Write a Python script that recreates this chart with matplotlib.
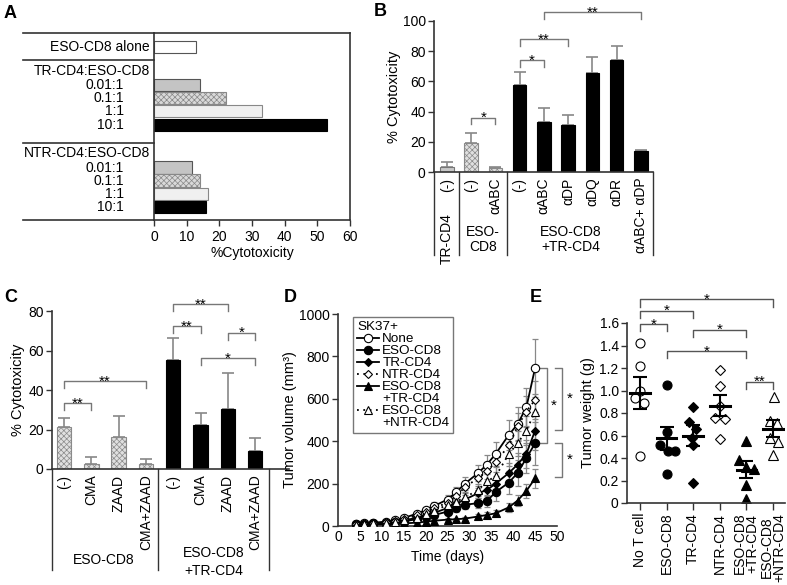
import numpy as np
import matplotlib
matplotlib.use("Agg")
import matplotlib.pyplot as plt
from matplotlib.transforms import offset_copy
from matplotlib.lines import Line2D

plt.rcParams['font.family'] = ['Liberation Sans', 'DejaVu Sans']
plt.rcParams['font.size'] = 9.5
plt.rcParams['hatch.linewidth'] = 0.5

W, H = 787, 585
fig = plt.figure(figsize=(W / 100, H / 100), dpi=100)
AX_COL = '#333333'
BR_COL = '#777777'

def px_axes(l, t, r, b):
    return fig.add_axes([l / W, 1 - b / H, (r - l) / W, (b - t) / H])

def ftext(x, y, s, **kw):
    fig.text(x / W, 1 - y / H, s, **kw)

# ---------------- data ----------------
# Panel A
A_labels = ['ESO-CD8 alone', '0.01:1', '0.1:1', '1:1', '10:1', '0.01:1', '0.1:1', '1:1', '10:1']
A_values = [13, 14, 22, 33, 53, 11.5, 14, 16.5, 16]
A_headers = ['TR-CD4:ESO-CD8', 'NTR-CD4:ESO-CD8']

# Panel B
B_labels = ['(-)', '(-)', 'αABC', '(-)', 'αABC', 'αDP', 'αDQ', 'αDR', 'αABC+ αDP']
B_values = [3, 19, 2.5, 57.5, 33, 31, 65.5, 74.5, 14]
B_err = [3.5, 7, 0.5, 8.5, 9.5, 7, 10.5, 9, 0.5]
B_brackets = [(1, 2, 36, '*'), (3, 4, 74, '*'), (3, 5, 88, '**'), (4, 8, 106, '**')]

# Panel C
C_labels = ['(-)', 'CMA', 'ZAAD', 'CMA+ZAAD'] * 2
C_values = [21.5, 2.3, 16, 2.5, 55, 22.5, 30.5, 9]
C_err = [4.5, 3.7, 11, 2.5, 11.5, 6, 18, 6.5]
C_brackets = [(0, 1, 33.5, '**'), (0, 3, 44.5, '**'), (4, 5, 72.5, '**'),
              (4, 6, 83.5, '**'), (6, 7, 69, '*'), (5, 7, 56, '*')]

# Panel D
D_days = [4, 6, 8, 11, 13, 15, 18, 20, 22, 25, 27, 29, 32, 34, 36, 39, 41, 43, 45]
D_none = [10, 12, 16, 20, 28, 38, 58, 75, 95, 125, 160, 200, 250, 290, 340, 430, 480, 560, 745]
D_none_err = [3, 3, 4, 5, 6, 8, 10, 12, 18, 22, 25, 30, 40, 45, 55, 70, 80, 90, 135]
D_eso = [9, 10, 12, 14, 17, 22, 32, 42, 52, 68, 85, 100, 108, 118, 160, 205, 250, 320, 390]
D_eso_err = [2, 2, 3, 3, 4, 5, 7, 9, 12, 15, 18, 20, 25, 28, 40, 55, 60, 70, 100]
D_tr = [8, 10, 12, 15, 20, 27, 38, 50, 62, 85, 105, 125, 155, 170, 200, 250, 290, 340, 450]
D_tr_err = [2, 2, 3, 3, 4, 5, 7, 9, 12, 15, 18, 20, 25, 28, 35, 45, 55, 65, 90]
D_ntr = [8, 10, 14, 18, 25, 34, 50, 65, 85, 110, 140, 185, 225, 260, 300, 380, 470, 540, 595]
D_ntr_err = [2, 3, 3, 4, 5, 7, 9, 11, 14, 18, 22, 28, 35, 40, 45, 55, 65, 75, 90]
D_eso_tr = [5, 6, 7, 8, 10, 12, 16, 20, 25, 30, 32, 35, 45, 52, 60, 88, 120, 165, 225]
D_eso_tr_err = [1, 1, 2, 2, 2, 3, 4, 5, 6, 7, 8, 9, 10, 12, 14, 20, 25, 35, 45]
D_eso_ntr = [7, 9, 12, 15, 20, 28, 40, 55, 72, 100, 115, 135, 170, 210, 235, 340, 390, 450, 540]
D_eso_ntr_err = [2, 2, 3, 3, 4, 5, 8, 10, 13, 17, 20, 24, 30, 38, 42, 55, 60, 70, 85]

# Panel E
E_labels = ['No T cell', 'ESO-CD8', 'TR-CD4', 'NTR-CD4', 'ESO-CD8\n+TR-CD4', 'ESO-CD8\n+NTR-CD4']
E_points = [[1.42, 1.22, 1.00, 0.93, 0.89, 0.42],
            [1.05, 0.63, 0.52, 0.46, 0.46, 0.26],
            [0.85, 0.72, 0.66, 0.58, 0.52, 0.18],
            [1.18, 1.04, 0.86, 0.76, 0.75, 0.57],
            [0.55, 0.38, 0.32, 0.30, 0.16, 0.04],
            [0.94, 0.73, 0.71, 0.58, 0.54, 0.43]]
E_jitter = [[0, 0, 0, -0.18, 0.15, 0],
            [0, 0, -0.25, 0.05, 0.3, 0],
            [0, -0.15, 0.1, -0.06, 0, 0],
            [0, 0, 0, -0.19, 0.19, 0],
            [0, -0.28, 0, 0.28, 0, 0],
            [0.05, -0.1, 0.15, -0.1, 0.2, 0]]
E_mean = [0.98, 0.575, 0.60, 0.865, 0.295, 0.66]
E_sem = [0.14, 0.105, 0.09, 0.095, 0.075, 0.075]
E_brackets = [(0, 5, 1.81, '*'), (0, 2, 1.71, '*'), (0, 1, 1.59, '*'),
              (2, 4, 1.54, '*'), (1, 4, 1.35, '*'), (4, 5, 1.08, '**')]


def style_spines(ax, which=('left', 'bottom')):
    for s in ['left', 'right', 'top', 'bottom']:
        ax.spines[s].set_visible(s in which)
        ax.spines[s].set_color(AX_COL)
        ax.spines[s].set_linewidth(1.2)
    ax.tick_params(colors=AX_COL, labelcolor='black', width=1.0, length=4)


def brackets(ax, specs, drop, fs=11, color=BR_COL):
    star_tr = offset_copy(ax.transData, fig=fig, y=-4.5, units='dots')
    for x1, x2, y, lab in specs:
        ax.plot([x1, x1, x2, x2], [y - drop, y, y, y - drop], color=color, lw=1.0,
                clip_on=False)
        ax.text((x1 + x2) / 2, y, lab, ha='center', va='baseline', transform=star_tr,
                fontsize=fs, clip_on=False)

# ---------------- Panel A ----------------
axA = px_axes(154, 33, 350, 220)
A_rows = [1.06, 3.94, 4.93, 5.91, 6.97, 10.2, 11.2, 12.2, 13.18]
A_face = ['white', '#c4c4c4', '#d9d9d9', '#f0f0f0', 'black', '#c4c4c4', '#d9d9d9', '#f0f0f0', 'black']
A_hatch = [None, None, 'xxxxxx', None, None, None, 'xxxxxx', None, None]
A_edge = ['#555555', '#555555', '#888888', '#888888', 'black', '#555555', '#888888', '#888888', 'black']
for r, v, fc, h, ec in zip(A_rows, A_values, A_face, A_hatch, A_edge):
    axA.barh(r, v, height=0.97, color=fc, edgecolor=ec, hatch=h, linewidth=0.8)
axA.set_xlim(0, 60)
axA.set_ylim(14.17, 0)
style_spines(axA, ('left', 'right', 'top', 'bottom'))
axA.set_yticks([])
axA.set_xticks(range(0, 61, 10))
axA.tick_params(axis='x', labelsize=10)
axA.set_xlabel('%Cytotoxicity', fontsize=10, labelpad=1)
ty = axA.get_yaxis_transform()
for yy in (0, 14.17):
    axA.plot([-0.668, 0], [yy, yy], transform=ty, color=AX_COL, lw=1.2, clip_on=False)
for yy in (2.05, 8.33):
    axA.plot([-0.668, 0], [yy, yy], transform=ty, color=AX_COL, lw=1.2, clip_on=False)
axA.text(-0.02, A_rows[0], A_labels[0], transform=ty, ha='right', va='center', fontsize=10)
axA.text(-0.02, 2.88, A_headers[0], transform=ty, ha='right', va='center', fontsize=10)
axA.text(-0.02, 9.09, A_headers[1], transform=ty, ha='right', va='center', fontsize=10)
for r, lab in zip(A_rows[1:], A_labels[1:]):
    axA.text(-0.153, r, lab, transform=ty, ha='right', va='center', fontsize=10)

# ---------------- Panel B ----------------
axB = px_axes(434, 21, 653, 172)
xB = np.arange(len(B_values))
B_face = ['#c8c8c8', '#e0e0e0', '#e0e0e0'] + ['black'] * 6
B_hatch = [None, 'xxxxxx', 'xxxxxx'] + [None] * 6
B_edge = ['#777777', '#8a8a8a', '#8a8a8a'] + ['black'] * 6
axB.errorbar(xB, B_values, yerr=[np.zeros(len(B_err)), B_err], fmt='none',
             ecolor='#888888', elinewidth=1.2, capsize=4, capthick=1.2, zorder=1)
for x, v, fc, h, ec in zip(xB, B_values, B_face, B_hatch, B_edge):
    axB.bar(x, v, width=0.55, color=fc, edgecolor=ec, hatch=h, linewidth=0.8, zorder=2)
axB.set_xlim(-0.53, 8.5)
axB.set_ylim(0, 100)
style_spines(axB)
axB.set_yticks(range(0, 101, 20))
axB.tick_params(axis='y', labelsize=10, pad=2)
axB.set_xticks(xB)
axB.set_xticklabels(B_labels, rotation=90, fontsize=10, va='top')
axB.tick_params(axis='x', length=0, pad=4)
axB.set_ylabel('% Cytotoxicity', fontsize=10.5, labelpad=1)
tx = axB.get_xaxis_transform()
for xx in (-0.53, 0.5, 2.5, 8.5):
    axB.plot([xx, xx], [0, -0.55], transform=tx, color=AX_COL, lw=1.0, clip_on=False)
axB.text(0, -0.27, 'TR-CD4', transform=tx, rotation=90, ha='center', va='top', fontsize=10)
axB.text(1.5, -0.35, 'ESO-\nCD8', transform=tx, ha='center', va='top', fontsize=10,
         linespacing=1.1)
axB.text(5.1, -0.35, 'ESO-CD8\n+TR-CD4', transform=tx, ha='center', va='top', fontsize=10,
         linespacing=1.1)
brackets(axB, B_brackets, 4.5)

# ---------------- Panel C ----------------
axC = px_axes(52, 311, 289, 469)
xC = np.arange(len(C_values))
C_face = ['#e0e0e0'] * 4 + ['black'] * 4
C_hatch = ['xxxxxx'] * 4 + [None] * 4
C_edge = ['#8a8a8a'] * 4 + ['black'] * 4
axC.errorbar(xC, C_values, yerr=[np.zeros(len(C_err)), C_err], fmt='none',
             ecolor='#888888', elinewidth=1.2, capsize=4, capthick=1.2, zorder=1)
for x, v, fc, h, ec in zip(xC, C_values, C_face, C_hatch, C_edge):
    axC.bar(x, v, width=0.53, color=fc, edgecolor=ec, hatch=h, linewidth=0.8, zorder=2)
axC.set_xlim(-0.44, 8.24)
axC.set_ylim(0, 80)
style_spines(axC)
axC.set_yticks(range(0, 81, 20))
axC.tick_params(axis='y', labelsize=10, pad=2)
axC.set_xticks(xC)
axC.set_xticklabels(C_labels, rotation=90, fontsize=10, va='top')
axC.tick_params(axis='x', length=0, pad=4)
axC.set_ylabel('% Cytotoxicity', fontsize=10.5, labelpad=2)
tx = axC.get_xaxis_transform()
for xx in (-0.44, 3.45, 7.5):
    axC.plot([xx, xx], [0, -0.64], transform=tx, color=AX_COL, lw=1.0, clip_on=False)
axC.text(1.45, -0.53, 'ESO-CD8', transform=tx, ha='center', va='top', fontsize=10)
axC.text(5.5, -0.49, 'ESO-CD8\n+TR-CD4', transform=tx, ha='center', va='top', fontsize=10,
         linespacing=1.3)
brackets(axC, C_brackets, 3.5)

# ---------------- Panel D ----------------
axD = px_axes(338, 314, 557, 526)
D_series = [
    ('None', D_none, D_none_err, 'o', 'white', '-'),
    ('ESO-CD8', D_eso, D_eso_err, 'o', 'black', '-'),
    ('TR-CD4', D_tr, D_tr_err, 'D', 'black', '-'),
    ('NTR-CD4', D_ntr, D_ntr_err, 'D', 'white', (0, (1, 2.5))),
    ('ESO-CD8\n+TR-CD4', D_eso_tr, D_eso_tr_err, '^', 'black', '-'),
    ('ESO-CD8\n+NTR-CD4', D_eso_ntr, D_eso_ntr_err, '^', 'white', (0, (1, 2.5))),
]
handles, labels = [], []
for name, vals, err, mk, mfc, ls in D_series:
    axD.errorbar(D_days, vals, yerr=err, fmt='none', ecolor='#888888', elinewidth=0.9,
                 capsize=2, capthick=0.9, zorder=1)
for name, vals, err, mk, mfc, ls in D_series:
    ms = 4.5 if mk == 'D' else 6
    h, = axD.plot(D_days, vals, linestyle=ls, color='black', lw=1.3, marker=mk, ms=ms,
                  mfc=mfc, mec='black', mew=0.8, zorder=3)
    parts = name.split('\n')
    handles.append(h)
    labels.append(parts[0])
    for extra in parts[1:]:
        handles.append(Line2D([], [], linestyle='none', marker=None))
        labels.append(extra)
axD.set_xlim(0, 50)
axD.set_ylim(0, 1000)
style_spines(axD)
axD.set_xticks(range(0, 51, 5))
axD.set_yticks(range(0, 1001, 200))
axD.tick_params(axis='x', length=0, labelsize=10, pad=3)
axD.tick_params(axis='y', labelsize=10, pad=2)
axD.set_xlabel('Time (days)', fontsize=10, labelpad=4)
axD.set_ylabel('Tumor volume (mm³)', fontsize=10.5, labelpad=1)
leg = axD.legend(handles=handles, labels=labels, title='SK37+', loc='upper left',
                 bbox_to_anchor=(0.07, 0.985), fontsize=9.7, title_fontsize=9.7,
                 frameon=True, fancybox=False, edgecolor='#555555', borderpad=0.3,
                 labelspacing=-0.03, handlelength=1.6, handletextpad=0.25,
                 borderaxespad=0)
leg._legend_box.align = 'left'
leg.get_frame().set_linewidth(1.0)
# side significance brackets (data units)
D_brackets = [(47.7, 46.1, 745, 391, 48.5), (51.1, 49.5, 745, 453, 52.2),
              (51.1, 49.5, 391, 231, 52.2)]
for xv, xt, y1, y2, xs in D_brackets:
    axD.plot([xt, xv, xv, xt], [y1, y1, y2, y2], color=BR_COL, lw=1.0, clip_on=False)
    axD.text(xs, (y1 + y2) / 2, '*', ha='left', va='center', fontsize=11, clip_on=False)

# ---------------- Panel E ----------------
axE = px_axes(627, 323, 785, 503)
E_markers = [('o', 'white'), ('o', 'black'), ('D', 'black'), ('D', 'white'),
             ('^', 'black'), ('^', 'white')]
for i, (pts, jit, (mk, fc)) in enumerate(zip(E_points, E_jitter, E_markers)):
    ms = 5.5 if mk == 'D' else 6.5
    axE.plot(np.array(jit) + i, pts, linestyle='none', marker=mk, ms=ms, mfc=fc,
             mec='black', mew=0.8, zorder=2)
    axE.plot([i - 0.37, i + 0.37], [E_mean[i]] * 2, color='black', lw=2.2, zorder=3)
    axE.errorbar(i, E_mean[i], yerr=E_sem[i], fmt='none', ecolor='black', elinewidth=1.5,
                 capsize=5, capthick=1.5, zorder=3)
axE.set_xlim(-0.49, 5.45)
axE.set_ylim(0, 1.6)
style_spines(axE)
axE.set_yticks(np.arange(0, 1.61, 0.2))
axE.set_yticklabels(['0'] + ['%.1f' % v for v in np.arange(0.2, 1.61, 0.2)])
axE.tick_params(axis='y', labelsize=10, pad=2)
axE.set_xticks(range(6))
axE.set_xticklabels(E_labels, rotation=90, fontsize=10, va='top', linespacing=0.85)
axE.tick_params(axis='x', length=5, direction='out', pad=2)
axE.set_ylabel('Tumor weight (g)', fontsize=10.5, labelpad=3)
brackets(axE, E_brackets, 0.065, color='#555555')

# ---------------- panel letters ----------------
for lab, x, y in [('A', 4, 14), ('B', 374, 12), ('C', 4, 298), ('D', 284, 298), ('E', 530, 298)]:
    ftext(x, y, lab, fontsize=13, fontweight='bold', va='center', ha='left')

fig.savefig('out.png', dpi=100)
